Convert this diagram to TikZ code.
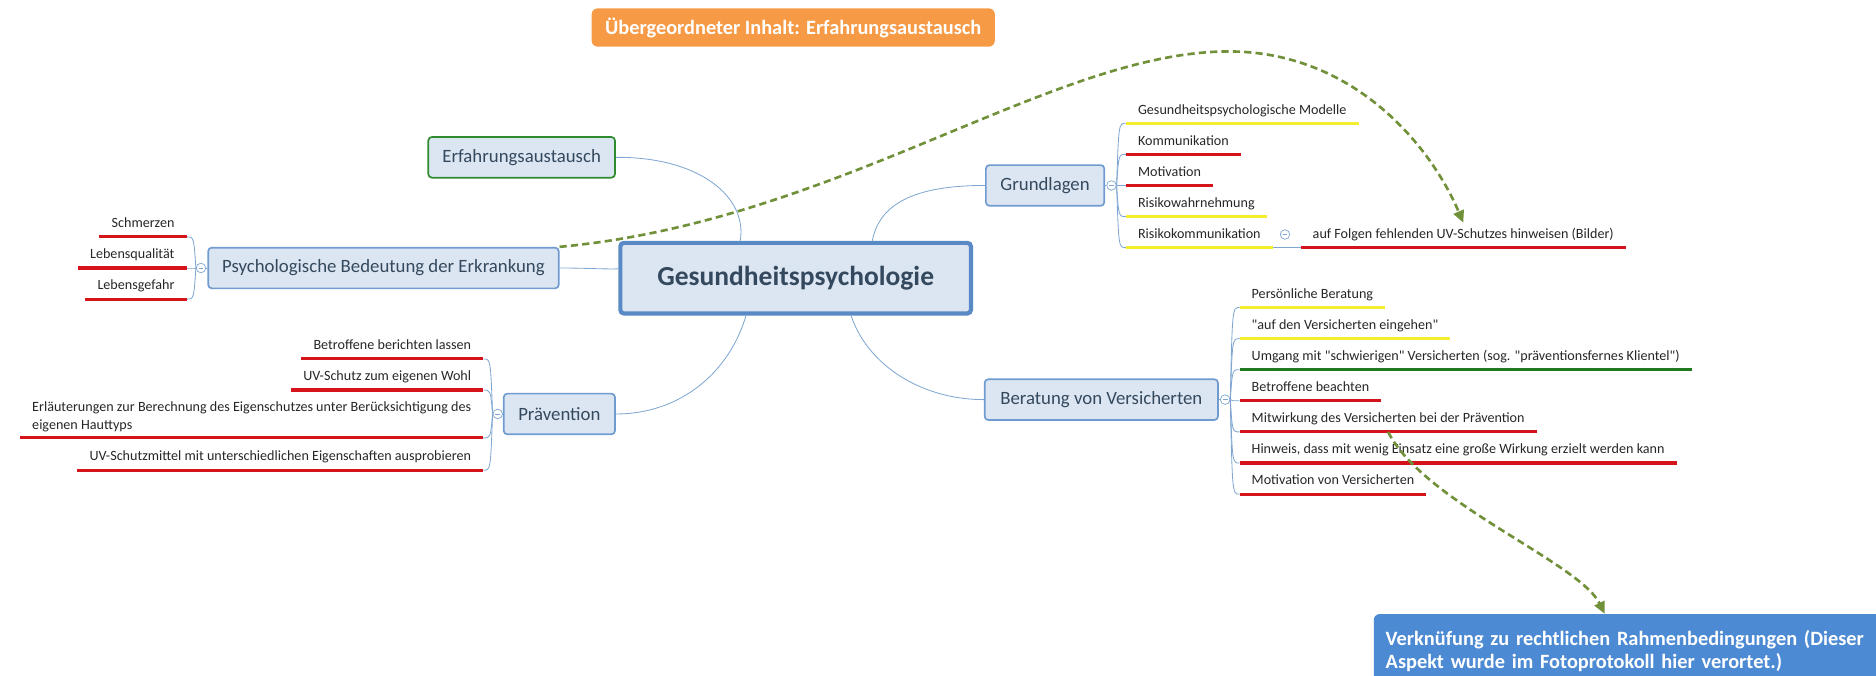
\documentclass[tikz,border=0pt]{standalone}
\usepackage{fontspec}
\setmainfont{Carlito}[Ligatures=TeXOff]
\usetikzlibrary{arrows.meta}

\definecolor{topicfill}{HTML}{DCE6F2}
\definecolor{topicline}{HTML}{6F9BD1}
\definecolor{centreline}{HTML}{5A8AC6}
\definecolor{topictext}{HTML}{34495E}
\definecolor{branchblue}{HTML}{7FA7D2}
\definecolor{markred}{HTML}{D4131B}
\definecolor{markyellow}{HTML}{F4EE2E}
\definecolor{markgreen}{HTML}{1F7A1F}
\definecolor{notegreen}{HTML}{2E8B2E}
\definecolor{relolive}{HTML}{71903A}
\definecolor{noteorange}{HTML}{F79A46}
\definecolor{noteblue}{HTML}{4C8AD3}

\tikzset{
  topic/.style={draw=topicline, fill=topicfill, line width=1.4pt, rounded corners=3pt,
    text=topictext, font=\fontsize{15.7}{18}\selectfont, minimum height=34pt, inner xsep=10pt},
  centre/.style={topic, draw=centreline, line width=3.5pt,
    font=\bfseries\fontsize{23}{27}\selectfont, minimum width=293pt, minimum height=59pt},
  leafbase/.style={inner xsep=10pt, inner ysep=5pt, text=black!85, font=\fontsize{11.8}{15}\selectfont},
  leaf/.style={leafbase, text height=8pt, text depth=2.5pt},
  hilite/.style={line width=2.6pt},
  branch/.style={draw=branchblue, line width=0.7pt},
  collapse/.style={circle, draw=branchblue, fill=white, line width=0.6pt, minimum size=8pt, inner sep=0pt,
    path picture={\draw[branchblue, line width=0.6pt] ([xshift=-2pt]path picture bounding box.center)
      -- ([xshift=2pt]path picture bounding box.center);}},
  relation/.style={draw=relolive, line width=2.2pt, dash pattern=on 6pt off 3.5pt,
    -{Triangle[length=10pt,width=9pt]}},
  notebox/.style={text=white, font=\bfseries\fontsize{17}{18.5}\selectfont, rounded corners=5pt}
}

\begin{document}
\begin{tikzpicture}[x=1pt, y=-1pt]
    \clip (0,0) rectangle (1568,565);

    % main topics
    \node[centre] (cent) at (665,232.5) {Gesundheitspsychologie};
    \node[topic, draw=notegreen, minimum width=156pt] (erf) at (436,131.5) {Erfahrungsaustausch};
    \node[topic, minimum width=293pt] (psych) at (320.5,224) {Psychologische Bedeutung der Erkrankung};
    \node[topic, minimum width=99pt] (grund) at (873.5,155) {Grundlagen};
    \node[topic, minimum width=195pt] (berat) at (920.5,334) {Beratung von Versicherten};
    \node[topic, minimum width=93pt] (prav) at (467.5,346) {Prävention};

    \node[notebox, fill=noteorange, minimum width=337pt, minimum height=32pt] (hint) at (663,23)
        {Übergeordneter Inhalt: Erfahrungsaustausch};
    \node[notebox, fill=noteblue, anchor=north west, text width=410pt, align=left,
        inner xsep=10pt, inner ysep=10pt, minimum height=62pt] (law) at (1148,513)
        {Verknüfung zu rechtlichen Rahmenbedingungen (Dieser\\Aspekt wurde im Fotoprotokoll hier verortet.)};

    \draw[branch] (erf.east) .. controls (585,131) and (625,165) .. (cent.146);
    \draw[branch] (psych.east) .. controls (492,224) and (500,225) .. (cent.177);
    \draw[branch] (cent.26) .. controls (735,170) and (765,155) .. (grund.west);
    \draw[branch] (cent.217) .. controls (610,310) and (570,346) .. (prav.east);
    \draw[branch] (cent.326) .. controls (725,305) and (770,334) .. (berat.west);

    % collapse buttons
    \node[collapse] (gc) at (929,155) {};
    \node[collapse] (bc) at (1024,334) {};
    \node[collapse] (pc) at (168,224) {};
    \node[collapse] (vc) at (416,346) {};
    \node[collapse] (rc) at (1074,196) {};
    \draw[branch] (grund.east) -- (gc);
    \draw[branch] (berat.east) -- (bc);
    \draw[branch] (psych.west) -- (pc);
    \draw[branch] (prav.west) -- (vc);

    % Grundlagen
    \node[leaf, anchor=south west] (g1) at (941,103) {Gesundheitspsychologische Modelle};
    \node[leaf, anchor=south west] (g2) at (941,129) {Kommunikation};
    \node[leaf, anchor=south west] (g3) at (941,155) {Motivation};
    \node[leaf, anchor=south west] (g4) at (941,181) {Risikowahrnehmung};
    \node[leaf, anchor=south west] (g5) at (941,207) {Risikokommunikation};
    \node[leaf, anchor=south west] (g6) at (1087,207) {auf Folgen fehlenden UV-Schutzes hinweisen (Bilder)};

    % Beratung
    \node[leaf, anchor=south west] (b1) at (1036,257) {Persönliche Beratung};
    \node[leaf, anchor=south west] (b2) at (1036,283) {"auf den Versicherten eingehen"};
    \node[leaf, anchor=south west] (b3) at (1036,309) {Umgang mit "schwierigen" Versicherten (sog. "präventionsfernes Klientel")};
    \node[leaf, anchor=south west] (b4) at (1036,335) {Betroffene beachten};
    \node[leaf, anchor=south west] (b5) at (1036,361) {Mitwirkung des Versicherten bei der Prävention};
    \node[leaf, anchor=south west] (b6) at (1036,387) {Hinweis, dass mit wenig Einsatz eine große Wirkung erzielt werden kann};
    \node[leaf, anchor=south west] (b7) at (1036,413) {Motivation von Versicherten};

    % Psychologische Bedeutung
    \node[leaf, anchor=south east] (p1) at (156,198) {Schmerzen};
    \node[leaf, anchor=south east] (p2) at (156,224) {Lebensqualität};
    \node[leaf, anchor=south east] (p3) at (156,250) {Lebensgefahr};

    % Praevention
    \node[leaf, anchor=south east] (v1) at (404,300) {Betroffene berichten lassen};
    \node[leaf, anchor=south east] (v2) at (404,326) {UV-Schutz zum eigenen Wohl};
    \node[leafbase, anchor=south east, align=left] (v3) at (404,366)
        {Erläuterungen zur Berechnung des Eigenschutzes unter Berücksichtigung des\\eigenen Hauttyps};
    \node[leaf, anchor=south east] (v4) at (404,393) {UV-Schutzmittel mit unterschiedlichen Eigenschaften ausprobieren};

    \foreach \n in {g1,g2,g3,g4,g5}
        \draw[branch] (gc.east) .. controls ([xshift=-6pt]\n.south west) .. (\n.south west);
    \foreach \n in {b1,b2,b3,b4,b5,b6,b7}
        \draw[branch] (bc.east) .. controls ([xshift=-6pt]\n.south west) .. (\n.south west);
    \foreach \n in {p1,p2,p3}
        \draw[branch] (pc.west) .. controls ([xshift=6pt]\n.south east) .. (\n.south east);
    \foreach \n in {v1,v2,v3,v4}
        \draw[branch] (vc.west) .. controls ([xshift=6pt]\n.south east) .. (\n.south east);
    \draw[branch] (g5.south east) -- (g6.south west);

    \foreach \n/\c in {g1/markyellow, g2/markred, g3/markred, g4/markyellow, g5/markyellow, g6/markred,
        b1/markyellow, b2/markyellow, b3/markgreen, b4/markred, b5/markred, b6/markred, b7/markred,
        p1/markred, p2/markred, p3/markred, v1/markred, v2/markred, v3/markred, v4/markred}
        \draw[hilite, \c] (\n.south west) -- (\n.south east);

    % relations
    \draw[relation] (psych.north east) .. controls (700,185) and (880,43) .. (1027,43)
        .. controls (1130,43) and (1195,120) .. (g6.north);
    \draw[relation] (b5.south) .. controls (1190,420) and (1320,470) .. ([xshift=-22pt]law.north);
\end{tikzpicture}
\end{document}
